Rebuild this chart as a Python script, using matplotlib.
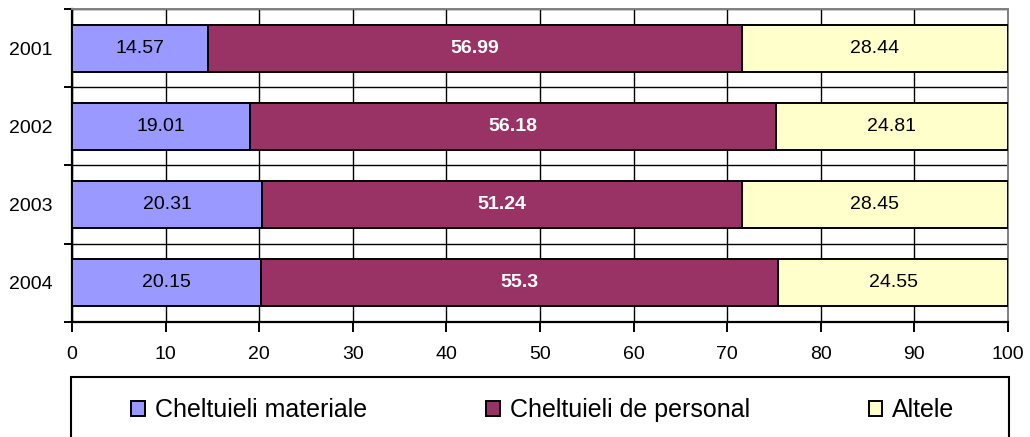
import numpy as np
import matplotlib.pyplot as plt
from matplotlib.patches import Rectangle

years = ['2001', '2002', '2003', '2004']
materiale = [14.57, 19.01, 20.31, 20.15]
personal = [56.99, 56.18, 51.24, 55.3]
altele = [28.44, 24.81, 28.45, 24.55]

series = [materiale, personal, altele]
names = ['Cheltuieli materiale', 'Cheltuieli de personal', 'Altele']
colors = ['#9999FF', '#993366', '#FFFFCC']
label_colors = ['black', 'white', 'black']
label_weights = ['normal', 'bold', 'normal']

plt.rcParams['font.family'] = ['Liberation Sans', 'DejaVu Sans']

fig = plt.figure(figsize=(10.30, 4.37), dpi=100)
ax = fig.add_axes([72 / 1030, 1 - 322 / 437, (1008 - 72) / 1030, (322 - 9) / 437])

y = np.arange(len(years))
left = np.zeros(len(years))
for vals, name, col, lc, lw in zip(series, names, colors, label_colors, label_weights):
    vals = np.array(vals)
    ax.barh(y, vals, left=left, height=0.6, color=col, edgecolor='black',
            linewidth=1.4, label=name, zorder=3)
    for yi, l, v in zip(y, left, vals):
        ax.text(l + v / 2, yi, f'{v:g}', ha='center', va='center',
                fontsize=14, color=lc, fontweight=lw, zorder=4)
    left += vals

ax.set_xlim(0, 100)
ax.set_ylim(len(years) - 0.5, -0.5)
ax.set_xticks(np.arange(0, 101, 10))

# category boundaries as major ticks + gridlines, labels on minor ticks
ax.set_yticks(np.arange(-0.5, len(years), 1.0))
ax.set_yticklabels([])
ax.set_yticks(y, minor=True)
ax.set_yticklabels(years, minor=True)

ax.tick_params(axis='x', which='major', length=7, width=1.4, direction='out',
               labelsize=14, pad=10)
ax.tick_params(axis='y', which='major', length=6, width=1.4, direction='out')
ax.tick_params(axis='y', which='minor', length=0, labelsize=14, pad=14)

ax.grid(True, which='major', color='black', linewidth=1.0, zorder=0)
ax.set_axisbelow(True)

for s in ['left', 'bottom']:
    ax.spines[s].set_linewidth(1.6)
    ax.spines[s].set_color('black')
for s in ['top', 'right']:
    ax.spines[s].set_linewidth(1.4)
    ax.spines[s].set_color('#808080')

# legend frame spans the plot width and runs off the bottom
frame = Rectangle((71 / 1030, -0.2), (1009 - 71) / 1030, 0.2 + (437 - 377) / 437,
                  transform=fig.transFigure, fill=False, edgecolor='black',
                  linewidth=1.5, clip_on=False)
fig.add_artist(frame)

handles, labels = ax.get_legend_handles_labels()
fig.legend(handles, labels, loc='center', bbox_to_anchor=(543 / 1030, 1 - 410 / 437),
           ncol=3, frameon=False, fontsize=18, handlelength=0.55, handleheight=0.55,
           handletextpad=0.4, columnspacing=4.75)

fig.savefig('out.png', dpi=100)
